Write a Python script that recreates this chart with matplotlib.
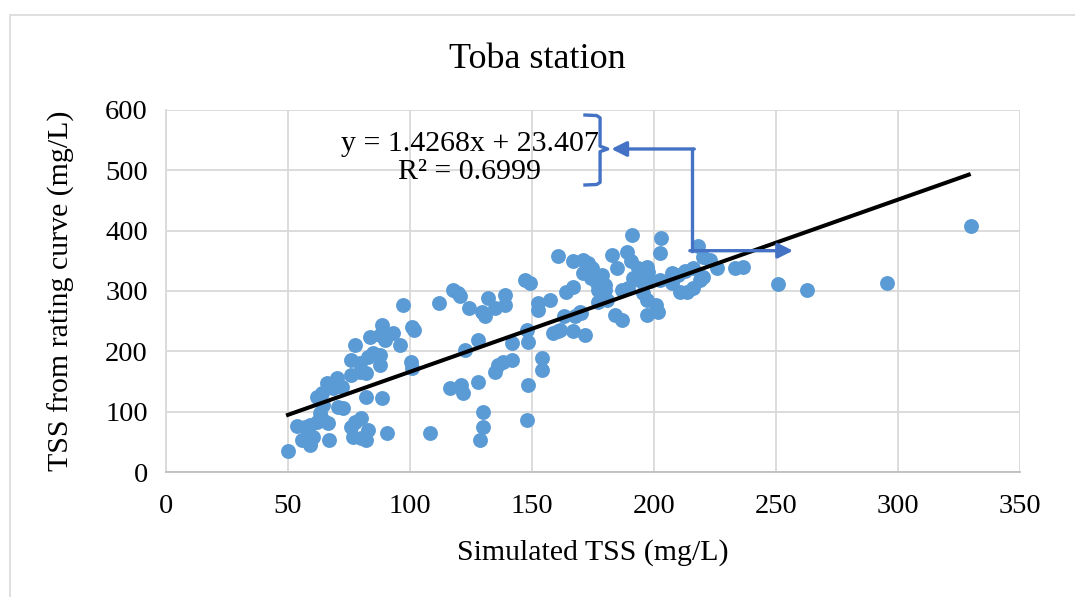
import matplotlib
matplotlib.use("Agg")
import matplotlib.pyplot as plt
import numpy as np
from matplotlib.patches import Rectangle

# simulated TSS (x) vs TSS from rating curve (y)
sim_tss = [
    50, 53.6, 57, 59, 61.8, 64.5, 66.5, 55.6, 59, 60.4, 67, 59,
    63, 64.5, 61.8, 63.8, 65.8, 69.9, 68.4, 72, 70.5, 72.5,
    76, 77.5, 80, 82.8, 76.7, 80, 82, 90.4,
    76, 79.5, 82, 82, 88.4,
    76, 79.5, 82.8, 85, 87.7, 77.5, 83.6, 87.7, 89.8, 93, 96, 88.4, 87.7,
    100.6, 100.7, 97, 100.7, 101.5, 108, 112,
    117.7, 119.7, 120.5, 124, 132, 129.4, 130.7, 135, 139, 139, 147, 149,
    152.6, 152.6, 157.4, 164, 167, 163, 170, 167, 171.7, 158.6, 160.7,
    147.8, 148.5, 141.7, 128, 122.5, 154, 154, 142, 138, 136, 135, 128,
    116.4, 121, 121.7, 148.4, 130, 130, 128.7, 147.8,
    160.8, 167, 171, 173, 174.5, 171, 174, 176.5, 178.5, 180, 177, 180,
    177, 180.6, 182.7, 184.7, 188.8, 190.4, 193.6, 197, 190.8, 203, 202.5,
    191.4, 194, 197.5, 198.4, 186.8, 189.3, 195.5, 197, 201, 201.6, 197,
    184, 186.8, 167.6, 169.7, 161.5,
    202.5, 207.3, 209.8, 212.7, 216, 207.3, 210.7, 213.4, 216, 218.9, 220,
    218, 220, 223, 226, 233, 236.5, 251, 262.6, 295.4, 330,
]
rating_tss = [
    35, 77, 75, 78, 83, 86, 81, 53, 50, 58, 53, 44,
    98, 111, 125, 131, 147, 156, 139, 141, 108, 106,
    75, 83, 90, 70, 58, 56, 53, 65,
    161, 166, 164, 125, 123,
    186, 181, 191, 197, 194, 211, 224, 227, 219, 230, 211, 244, 177,
    183, 172, 277, 241, 236, 65, 280,
    302, 297, 291, 272, 288, 266, 258, 272, 293, 277, 318, 313,
    280, 269, 285, 299, 307, 258, 263, 233, 227, 230, 233,
    235, 216, 214, 219, 202, 189, 169, 186, 183, 177, 166, 150,
    139, 144, 131, 144, 100, 75, 53, 86,
    358, 349, 351, 347, 338, 330, 322, 313, 327, 310, 302, 302,
    282, 285, 360, 338, 365, 349, 338, 340, 393, 388, 363,
    322, 318, 332, 316, 302, 305, 297, 285, 277, 266, 260,
    260, 252, 258, 266, 235,
    318, 330, 327, 333, 338, 313, 299, 299, 305, 318, 324,
    374, 357, 352, 338, 338, 339, 311, 301, 313, 407,
]

slope = 1.4268
intercept = 23.407
fit_x = [50, 329]
eq_text = "y = 1.4268x + 23.407\nR\u00b2 = 0.6999"

x_ticks = [0, 50, 100, 150, 200, 250, 300, 350]
y_ticks = [0, 100, 200, 300, 400, 500, 600]

DOT = "#5B9BD5"
ARROW = "#4472C4"
GRID = "#D9D9D9"

plt.rcParams["font.family"] = ["Liberation Serif", "DejaVu Serif"]

fig = plt.figure(figsize=(10.75, 5.97), dpi=100)
fig.patches.append(Rectangle((10 / 1075, -0.1), 1.2, 1.1 - 15 / 597,
                             transform=fig.transFigure, fill=False,
                             edgecolor=GRID, linewidth=1.2))
ax = fig.add_axes([166 / 1075, 1 - 472 / 597, 854 / 1075, 362 / 597])

ax.scatter(sim_tss, rating_tss, s=115, color=DOT, zorder=3, linewidths=0)
fit_x = np.array(fit_x)
ax.plot(fit_x, slope * fit_x + intercept, color="black", linewidth=2.9, zorder=4)

ax.set_xlim(0, 350)
ax.set_ylim(0, 600)
ax.set_xticks(x_ticks)
ax.set_yticks(y_ticks)
ax.grid(True, color=GRID, linewidth=1.3, zorder=0)
ax.set_axisbelow(True)
ax.tick_params(length=0, labelsize=20.5, pad=13)
ax.tick_params(axis="x", pad=16)
for side in ["top", "right"]:
    ax.spines[side].set_visible(False)
ax.spines["left"].set_color(GRID)
ax.spines["left"].set_linewidth(1.3)
ax.spines["bottom"].set_color("#BFBFBF")
ax.spines["bottom"].set_linewidth(1.3)

ax.set_xlabel("Simulated TSS (mg/L)", fontsize=21.5, labelpad=14)
ax.set_ylabel("TSS from rating curve (mg/L)", fontsize=21.5, labelpad=22)
fig.text(0.5, 1 - 60 / 597, "Toba station", ha="center", va="center", fontsize=26)

# equation label with brace and arrows
ax.text(124.5, 520, eq_text, ha="center", va="center", fontsize=21.5,
        linespacing=1.08, zorder=5)
brace_x = [171.7, 176.5, 177.9, 177.9, 181.0, 177.9, 177.9, 176.5, 171.7]
brace_y = [591.7, 590.8, 587, 540, 535.4, 531, 480, 476.5, 475.7]
ax.plot(brace_x, brace_y, color=ARROW, linewidth=2.4, clip_on=False, zorder=5,
        solid_joinstyle="round")
ax.plot([215.6, 215.6], [535.4, 366.8], color=ARROW, linewidth=2.4, zorder=5)
ax.annotate("", xy=(182.5, 535.4), xytext=(216.5, 535.4),
            arrowprops=dict(arrowstyle="-|>,head_length=0.9,head_width=0.45",
                            color=ARROW, lw=2.4, shrinkA=0, shrinkB=0), zorder=5)
ax.annotate("", xy=(257, 366.8), xytext=(214.7, 366.8),
            arrowprops=dict(arrowstyle="-|>,head_length=0.9,head_width=0.45",
                            color=ARROW, lw=2.4, shrinkA=0, shrinkB=0), zorder=5)

fig.savefig("out.png", dpi=100)
